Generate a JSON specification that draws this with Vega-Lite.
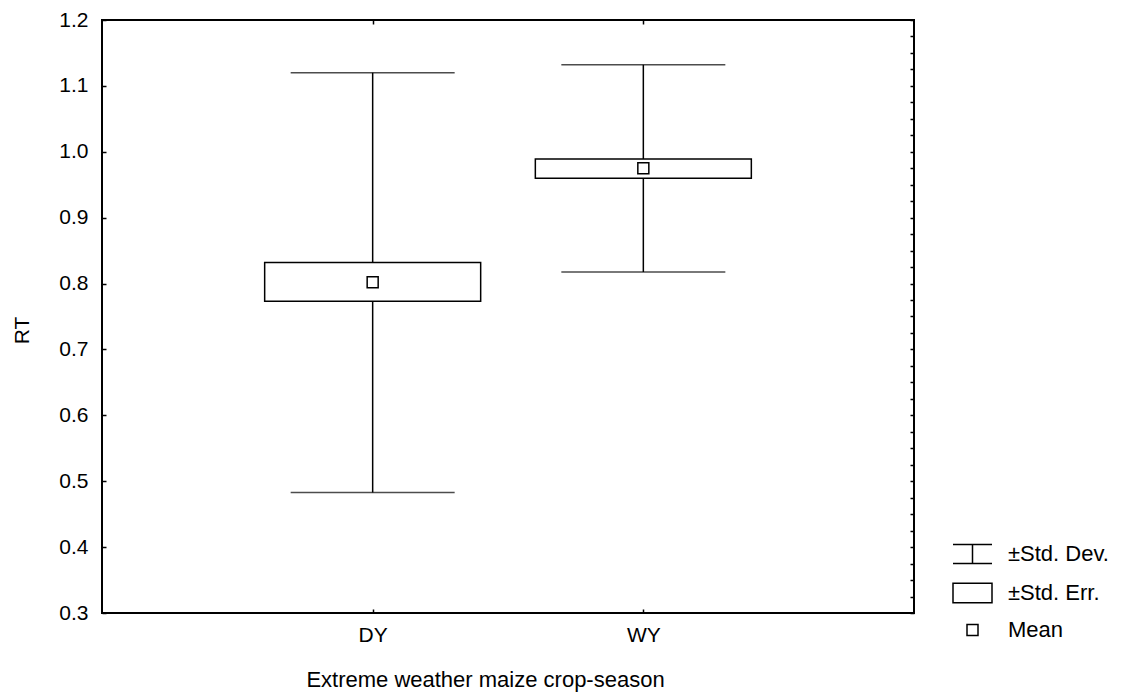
{
  "$schema": "https://vega.github.io/schema/vega-lite/v6.json",
  "width": 812,
  "height": 593,
  "autosize": {"type": "none"},
  "padding": {"left": 102, "top": 20, "right": 207, "bottom": 84},
  "background": "white",
  "config": {
    "font": "Liberation Sans",
    "view": {"stroke": "black", "strokeWidth": 2},
    "axis": {
      "grid": false,
      "domain": false,
      "labelFont": "Liberation Sans",
      "labelFontSize": 21,
      "labelColor": "black",
      "titleFont": "Liberation Sans",
      "titleFontSize": 22,
      "titleFontWeight": "normal",
      "titleColor": "black",
      "tickColor": "black",
      "tickWidth": 1.5,
      "tickSize": -4
    }
  },
  "data": {
    "values": [
      {"season": "DY", "stat": "Mean", "mean": 0.802, "seLow": 0.773, "seHigh": 0.832, "sdLow": 0.483, "sdHigh": 1.12},
      {"season": "WY", "stat": "Mean", "mean": 0.975, "seLow": 0.960, "seHigh": 0.989, "sdLow": 0.8175, "sdHigh": 1.132}
    ]
  },
  "layer": [
    {
      "layer": [
        {
          "mark": {"type": "rule", "color": "black", "strokeWidth": 1.5},
          "encoding": {
            "x": {
              "field": "season", "type": "nominal",
              "scale": {"type": "point", "domain": ["DY", "WY"], "padding": 1},
              "axis": {"title": "Extreme weather maize crop-season", "labelAngle": 0, "labelPadding": 15, "titleX": 383, "titleY": 66, "titleBaseline": "middle", "titleAlign": "center", "titleAnchor": null}
            },
            "y": {
              "field": "sdLow", "type": "quantitative",
              "scale": {"domain": [0.3, 1.2], "nice": false, "zero": false},
              "axis": {
                "title": "RT",
                "titleFontSize": 21,
                "titleX": -79.5, "titleY": 310, "titleBaseline": "middle", "titleAlign": "center", "titleAngle": 270,
                "labelPadding": 18,
                "values": [0.3,0.325,0.35,0.375,0.4,0.425,0.45,0.475,0.5,0.525,0.55,0.575,0.6,0.625,0.65,0.675,0.7,0.725,0.75,0.775,0.8,0.825,0.85,0.875,0.9,0.925,0.95,0.975,1.0,1.025,1.05,1.075,1.1,1.125,1.15,1.175,1.2],
                "labelExpr": "abs(datum.value*10 - round(datum.value*10)) < 0.001 ? format(datum.value, '.1f') : ''"
              }
            },
            "y2": {"field": "sdHigh"}
          }
        },
        {
          "mark": {"type": "tick", "color": "black", "size": 164, "thickness": 1.5},
          "encoding": {
            "x": {"field": "season", "type": "nominal"},
            "y": {"field": "sdLow", "type": "quantitative"}
          }
        },
        {
          "mark": {"type": "tick", "color": "black", "size": 164, "thickness": 1.5},
          "encoding": {
            "x": {"field": "season", "type": "nominal"},
            "y": {"field": "sdHigh", "type": "quantitative"}
          }
        },
        {
          "mark": {"type": "bar", "width": 216, "fill": "white", "stroke": "black", "strokeWidth": 1.5},
          "encoding": {
            "x": {"field": "season", "type": "nominal"},
            "y": {"field": "seLow", "type": "quantitative"},
            "y2": {"field": "seHigh"}
          }
        },
        {
          "mark": {"type": "point", "filled": false, "color": "black", "strokeWidth": 1.5, "size": 100, "opacity": 1},
          "encoding": {
            "x": {"field": "season", "type": "nominal"},
            "y": {"field": "mean", "type": "quantitative"},
            "shape": {
              "field": "stat", "type": "nominal",
              "scale": {
                "domain": ["±Std. Dev.", "±Std. Err.", "Mean"],
                "range": ["M-3.9,-1.9H3.9M0,-1.9V1.9M-3.9,1.9H3.9", "M-3.9,-1.95H3.9V1.95H-3.9Z", "M-1.1,-1.1H1.1V1.1H-1.1Z"]
              },
              "legend": {
                "title": null,
                "orient": "none",
                "legendX": 859.5,
                "legendY": 523,
                "labelFontSize": 22,
                "labelColor": "black",
                "labelOffset": 24.5,
                "rowPadding": 13
              }
            }
          }
        }
      ]
    },
    {
      "mark": {"type": "rule", "strokeOpacity": 0},
      "encoding": {
        "x": {
          "field": "season", "type": "nominal",
          "scale": {"type": "point", "domain": ["DY", "WY"], "padding": 1},
          "axis": {"orient": "top", "labels": false, "title": null}
        },
        "y": {
          "field": "sdLow", "type": "quantitative",
          "scale": {"domain": [0.3, 1.2], "nice": false, "zero": false},
          "axis": {
            "orient": "right", "labels": false, "title": null,
            "values": [0.3,0.325,0.35,0.375,0.4,0.425,0.45,0.475,0.5,0.525,0.55,0.575,0.6,0.625,0.65,0.675,0.7,0.725,0.75,0.775,0.8,0.825,0.85,0.875,0.9,0.925,0.95,0.975,1.0,1.025,1.05,1.075,1.1,1.125,1.15,1.175,1.2]
          }
        },
        "y2": {"field": "sdHigh"}
      }
    }
  ],
  "resolve": {"scale": {"x": "independent", "y": "independent"}}
}
